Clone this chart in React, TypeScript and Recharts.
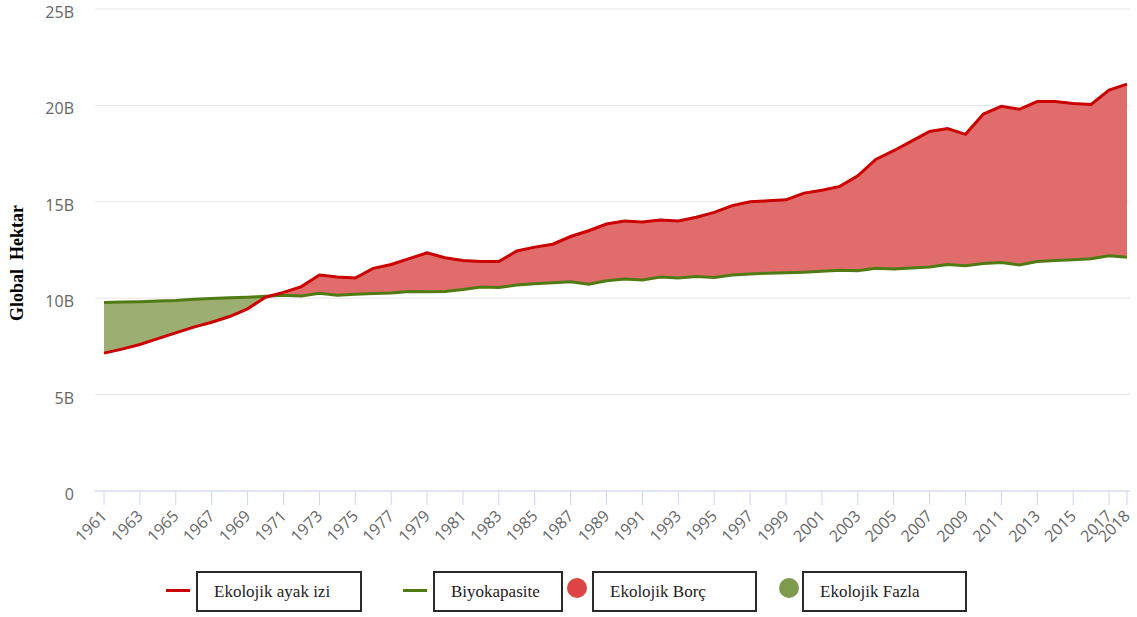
import React from 'react'
import {
  ComposedChart,
  Area,
  Line,
  XAxis,
  YAxis,
  CartesianGrid,
} from 'recharts'

// yıllar 1961–2018
const years: number[] = Array.from({ length: 58 }, (_, i) => 1961 + i)

// milyar küresel hektar
const footprint: number[] = [
  7.15, 7.36, 7.6, 7.9, 8.2, 8.5, 8.75, 9.05, 9.45, 10.05,
  10.3, 10.6, 11.2, 11.1, 11.05, 11.55, 11.75, 12.05, 12.35, 12.1,
  11.95, 11.9, 11.9, 12.45, 12.65, 12.8, 13.2, 13.5, 13.85, 14.0,
  13.95, 14.05, 14.0, 14.2, 14.45, 14.8, 15.0, 15.05, 15.1, 15.45,
  15.6, 15.8, 16.35, 17.2, 17.65, 18.15, 18.65, 18.8, 18.5, 19.55,
  19.95, 19.8, 20.2, 20.2, 20.1, 20.05, 20.8, 21.1,
]

const biocapacity: number[] = [
  9.78, 9.8, 9.82, 9.85, 9.88, 9.95, 9.98, 10.02, 10.05, 10.1,
  10.15, 10.12, 10.25, 10.15, 10.2, 10.25, 10.27, 10.35, 10.33, 10.35,
  10.45, 10.58, 10.55, 10.68, 10.75, 10.8, 10.85, 10.72, 10.9, 11.0,
  10.95, 11.1, 11.05, 11.12, 11.08, 11.2, 11.25, 11.3, 11.32, 11.35,
  11.4, 11.45, 11.42, 11.55, 11.52, 11.57, 11.62, 11.75, 11.68, 11.8,
  11.85, 11.72, 11.9, 11.95, 12.0, 12.05, 12.2, 12.12,
]

const yTicks = [0, 5, 10, 15, 20, 25]
const xTicks = [...years.filter(y => y % 2 === 1), 2018]

const legendItems = [
  { label: 'Ekolojik ayak izi', marker: 'line', color: '#cc0000' },
  { label: 'Biyokapasite', marker: 'line', color: '#4f7b12' },
  { label: 'Ekolojik Borç', marker: 'dot', color: '#dd4444' },
  { label: 'Ekolojik Fazla', marker: 'dot', color: '#7e9a4c' },
]

const data = years.map((year, i) => ({
  year,
  foot: footprint[i],
  bio: biocapacity[i],
  band: [footprint[i], biocapacity[i]],
}))

// where footprint crosses biocapacity -> gradient split point
function crossOffset() {
  for (let i = 0; i < data.length - 1; i++) {
    const d0 = footprint[i] - biocapacity[i]
    const d1 = footprint[i + 1] - biocapacity[i + 1]
    if (d0 <= 0 && d1 > 0) {
      const t = d0 / (d0 - d1)
      return (i + t) / (data.length - 1)
    }
  }
  return 0
}

const axisFont = '"Open Sans", sans-serif'

function XTick({ x, y, payload }: any) {
  return (
    <text
      x={x + 4}
      y={y + 12}
      transform={`rotate(-45 ${x + 4} ${y + 12})`}
      textAnchor="end"
      fontSize={16}
      fill="#666"
      fontFamily={axisFont}
    >
      {payload.value}
    </text>
  )
}

function YTick({ x, y, payload }: any) {
  const v = payload.value
  return (
    <text
      x={x}
      y={y + 9}
      textAnchor="end"
      fontSize={16}
      fill="#666"
      fontFamily={axisFont}
    >
      {v === 0 ? '0' : `${v}B`}
    </text>
  )
}

function Legend() {
  const boxes = [
    { left: 196, width: 166 },
    { left: 433, width: 130 },
    { left: 592, width: 165 },
    { left: 802, width: 165 },
  ]
  const markers = [178, 415, 577, 789]
  return (
    <>
      {legendItems.map((it, i) => (
        <React.Fragment key={it.label}>
          {it.marker === 'line' ? (
            <div
              style={{
                position: 'absolute',
                left: markers[i] - 12,
                top: 589,
                width: 24,
                height: 3,
                background: it.color,
              }}
            />
          ) : (
            <div
              style={{
                position: 'absolute',
                left: markers[i] - 10,
                top: 578,
                width: 20,
                height: 20,
                borderRadius: 10,
                background: it.color,
              }}
            />
          )}
          <div
            style={{
              position: 'absolute',
              left: boxes[i].left,
              top: 571,
              width: boxes[i].width,
              height: 41,
              boxSizing: 'border-box',
              border: '2px solid #2a2a2a',
              paddingLeft: 16,
              display: 'flex',
              alignItems: 'center',
              fontFamily: '"Liberation Serif", "Times New Roman", serif',
              fontSize: 17,
              color: '#1c1c24',
            }}
          >
            {it.label}
          </div>
        </React.Fragment>
      ))}
    </>
  )
}

export default function App() {
  const off = crossOffset()
  return (
    <div style={{ position: 'absolute', left: 0, top: 0, width: 1137, height: 617, background: '#fff' }}>
      <ComposedChart
        width={1137}
        height={560}
        data={data}
        margin={{ top: 9, right: 7, bottom: 0, left: 0 }}
      >
        <defs>
          <linearGradient id="split" x1="0" y1="0" x2="1" y2="0">
            <stop offset={off} stopColor="#9cae72" />
            <stop offset={off} stopColor="#e06c6c" />
          </linearGradient>
        </defs>
        <CartesianGrid vertical={false} stroke="#e6e6e6" />
        <XAxis
          dataKey="year"
          type="number"
          domain={[1961, 2018]}
          ticks={xTicks}
          interval={0}
          padding={{ left: 9, right: 3 }}
          height={69}
          stroke="#ccd6eb"
          tickSize={14}
          tickMargin={0}
          tick={<XTick />}
        />
        <YAxis
          domain={[0, 25]}
          ticks={yTicks}
          width={95}
          axisLine={false}
          tickLine={false}
          tickMargin={15}
          tick={<YTick />}
        />
        <Area
          dataKey="band"
          type="linear"
          stroke="none"
          fill="url(#split)"
          fillOpacity={1}
          isAnimationActive={false}
        />
        <Line
          dataKey="bio"
          type="linear"
          stroke="#4f7b12"
          strokeWidth={3}
          dot={false}
          isAnimationActive={false}
        />
        <Line
          dataKey="foot"
          type="linear"
          stroke="#cc0000"
          strokeWidth={3}
          dot={false}
          isAnimationActive={false}
        />
      </ComposedChart>
      <div
        style={{
          position: 'absolute',
          left: 17,
          top: 263,
          transform: 'translate(-50%, -50%) rotate(-90deg)',
          whiteSpace: 'pre',
          fontFamily: '"Liberation Serif", "Times New Roman", serif',
          fontWeight: 'bold',
          fontSize: 18,
          color: '#000',
        }}
      >
        {'Global  Hektar'}
      </div>
      <Legend />
    </div>
  )
}
